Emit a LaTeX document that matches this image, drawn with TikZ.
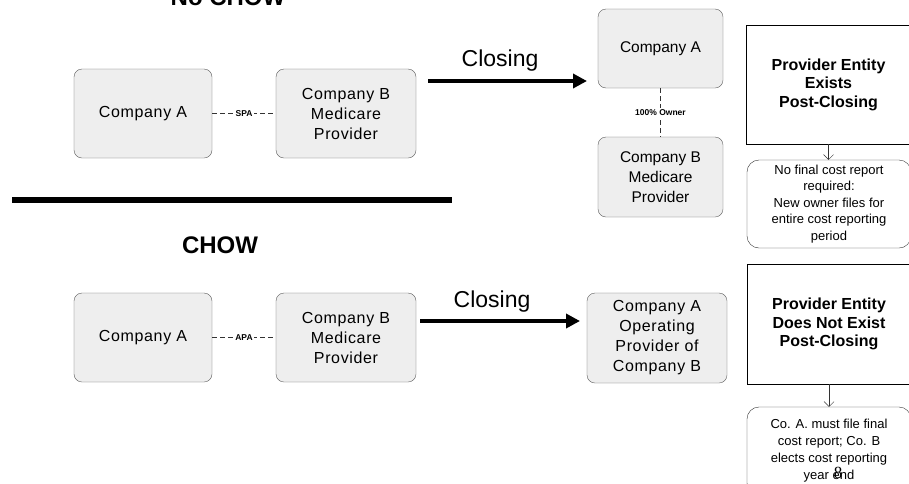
\documentclass[tikz,border=0pt]{standalone}
\usepackage{fontspec}
\setmainfont{Liberation Sans}
\newfontfamily\widefont[LetterSpace=4]{Liberation Sans}
\newfontfamily\pagefont{Liberation Serif}
\usetikzlibrary{arrows.meta}

\begin{document}
\begin{tikzpicture}[x=1pt, y=-1pt,
	gbox/.style={draw=gray!70!black, fill=gray!13, rounded corners=8pt, align=center, inner sep=0pt},
	tbox/.style={draw, line width=0.8pt, align=center, inner sep=0pt, font=\bfseries\fontsize{16}{18.5}\selectfont},
	nbox/.style={draw=black!80, rounded corners=12pt, align=center, inner sep=0pt, font=\fontsize{13}{16.5}\selectfont},
	deal/.style={draw=black!80, dash pattern=on 5pt off 3pt},
	dlabel/.style={fill=white, inner sep=1.5pt, font=\bfseries\fontsize{8.5}{10}\selectfont},
	closing/.style={line width=4pt, -{Triangle[length=14pt,width=14pt]}},
	down/.style={draw=black!80, -{Straight Barb[length=5pt,width=10pt]}},
	heading/.style={anchor=base, font=\bfseries\fontsize{24}{24}\selectfont}]
			\useasboundingbox (0,0) rectangle (909,483);
			
			% no change of ownership
			\node[heading] (nochow) at (228,5) {No CHOW};
			\node[gbox, minimum width=138pt, minimum height=89pt, font=\widefont\fontsize{16}{20}\selectfont] (a1) at (143,113.5) {Company A};
			\node[gbox, minimum width=140pt, minimum height=89pt, font=\widefont\fontsize{16}{20}\selectfont] (b1) at (346,113.5) {Company B\\Medicare\\Provider};
			\draw[deal] (a1) -- (b1) node[midway, dlabel]{SPA};
			
			\coordinate (s1) at (428,81);
			\coordinate (e1) at (587,81);
			\draw[closing] (s1) -- (e1);
			\node[font=\fontsize{23}{23}\selectfont] (cl1) at (500,61) {Closing};
			
			\node[gbox, minimum width=125pt, minimum height=79pt, font=\fontsize{15.5}{20}\selectfont] (a2) at (660.5,48.5) {Company A};
			\node[gbox, minimum width=125pt, minimum height=80pt, font=\fontsize{15.5}{20}\selectfont] (b2) at (660.5,177) {Company B\\Medicare\\Provider};
			\draw[deal] (a2) -- (b2) node[midway, dlabel]{100\% Owner};
			
			\node[tbox, minimum width=165pt, minimum height=119pt] (r1) at (828.5,84.5) {Provider Entity\\Exists\\Post-Closing};
			\node[nbox, minimum width=164pt, minimum height=88pt] (w1) at (829,204) {No final cost report\\required:\\New owner files for\\entire cost reporting\\period};
			\draw[down] (r1.south) -- (r1.south |- w1.north);
			
			% separator
			\coordinate (l1) at (12,200);
			\coordinate (l2) at (452,200);
			\draw[line width=6pt] (l1) -- (l2);
			
			% change of ownership
			\node[heading] (chow) at (220,253) {CHOW};
			\node[gbox, minimum width=138pt, minimum height=89pt, font=\widefont\fontsize{16}{20}\selectfont] (a3) at (143,337.5) {Company A};
			\node[gbox, minimum width=140pt, minimum height=89pt, font=\widefont\fontsize{16}{20}\selectfont] (b3) at (346,337.5) {Company B\\Medicare\\Provider};
			\draw[deal] (a3) -- (b3) node[midway, dlabel]{APA};
			
			\coordinate (s2) at (420,321);
			\coordinate (e2) at (580,321);
			\draw[closing] (s2) -- (e2);
			\node[font=\fontsize{23}{23}\selectfont] (cl2) at (492,302) {Closing};
			
			\node[gbox, minimum width=140pt, minimum height=90pt, font=\widefont\fontsize{16}{20}\selectfont] (c3) at (657,338) {Company A\\Operating\\Provider of\\Company B};
			
			\node[tbox, minimum width=164pt, minimum height=120pt] (r2) at (829,324) {Provider Entity\\Does Not Exist\\Post-Closing};
			\node[nbox, minimum width=164pt, minimum height=88pt, font=\fontsize{13}{17}\selectfont] (w2) at (829,451) {Co. A. must file final\\cost report; Co. B\\elects cost reporting\\year end};
			\draw[down] (r2.south) -- (r2.south |- w2.north);
			
			\node (pg) at (838,473) {\pagefont\fontsize{17}{17}\selectfont 8};
			\end{tikzpicture}
\end{document}
